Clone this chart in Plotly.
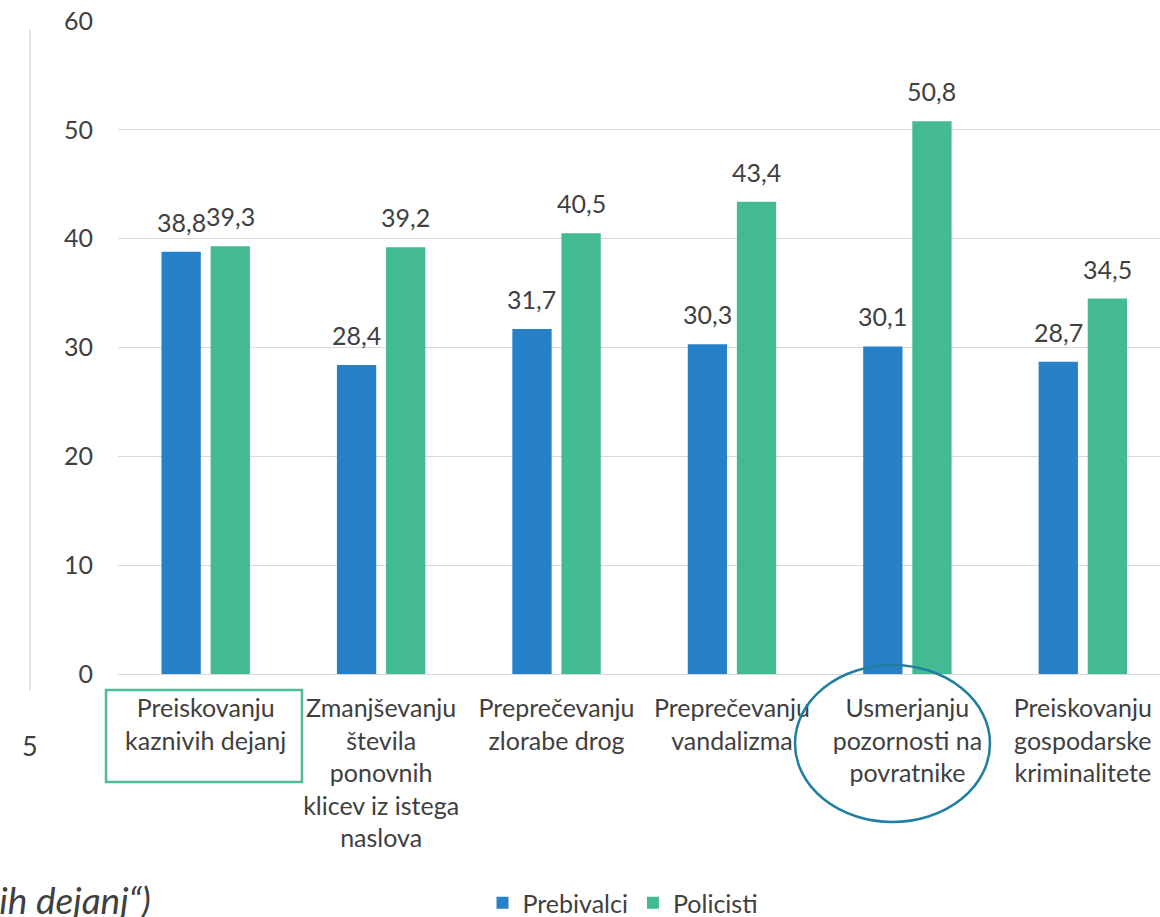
import plotly.graph_objects as go

categories = [
    "Preiskovanju<br>kaznivih dejanj",
    "Zmanjševanju<br>števila<br>ponovnih<br>klicev iz istega<br>naslova",
    "Preprečevanju<br>zlorabe drog",
    "Preprečevanju<br>vandalizma",
    "Usmerjanju<br>pozornosti na<br>povratnike",
    "Preiskovanju<br>gospodarske<br>kriminalitete",
]
prebivalci = [38.8, 28.4, 31.7, 30.3, 30.1, 28.7]
policisti = [39.3, 39.2, 40.5, 43.4, 50.8, 34.5]
series_names = ["Prebivalci", "Policisti"]
y_ticks = [0, 10, 20, 30, 40, 50, 60]

FONT = "Lato"
TXT = "#404040"
W, H = 1160, 917
L, R, T, B = 118, 0, 21, 243
PW, PH = W - L - R, H - T - B
BARGAP = 0.44
SLOT = (1 - BARGAP) / 2


def px(x):
    return (x - L) / PW


def py(y):
    return (H - B - y) / PH


fig = go.Figure()
label_annots = []
for k, (name, vals, col) in enumerate([(series_names[0], prebivalci, "#2681C8"),
                                       (series_names[1], policisti, "#43BA94")]):
    fig.add_trace(go.Bar(
        x=list(range(len(categories))), y=vals, name=name,
        marker=dict(color=col, line=dict(width=0)),
    ))
    off = (k - 0.5) * SLOT
    for i, v in enumerate(vals):
        label_annots.append(dict(
            text=f"{v:.1f}".replace(".", ","), xref="x", yref="y",
            x=i + off, y=v, xanchor="center", yanchor="bottom", yshift=13,
            showarrow=False, font=dict(family=FONT, size=25, color=TXT)))

fig.update_layout(
    width=W, height=H,
    margin=dict(l=L, r=R, t=T, b=B, pad=0, autoexpand=False),
    paper_bgcolor="white", plot_bgcolor="white",
    separators=",.",
    barmode="group", bargap=BARGAP, bargroupgap=0.2,
    font=dict(family=FONT, size=25, color=TXT),
    showlegend=True,
    legend=dict(orientation="h", x=0.5 - 16 / PW, xanchor="center", xref="paper",
                y=py(903), yanchor="middle",
                font=dict(family=FONT, size=25, color=TXT),
                traceorder="normal"),
    xaxis=dict(
        tickmode="array", tickvals=list(range(len(categories))), ticktext=categories,
        range=[-0.5, 5.44], showgrid=False, zeroline=False, showline=False,
        ticks="", tickfont=dict(family=FONT, size=25, color=TXT),
        ticklabelstandoff=17, automargin=False,
    ),
    yaxis=dict(
        range=[0, 60], tickvals=y_ticks, showgrid=True, gridcolor="#D9D9D9",
        gridwidth=1.3, zeroline=True, zerolinecolor="#D9D9D9", zerolinewidth=1.3,
        showline=False, ticks="", tickfont=dict(family=FONT, size=25, color=TXT),
        ticklabelstandoff=24, automargin=False,
    ),
    shapes=[
        dict(type="rect", xref="paper", yref="paper",
             x0=px(106), x1=px(302), y0=py(782), y1=py(690),
             line=dict(color="#4DBB93", width=2.5)),
        dict(type="circle", xref="paper", yref="paper",
             x0=px(795), x1=px(990), y0=py(822), y1=py(665),
             line=dict(color="#1F7EA1", width=2.5)),
        dict(type="line", xref="paper", yref="paper",
             x0=px(30), x1=px(30), y0=py(690), y1=py(30),
             line=dict(color="#D9D9D9", width=1.5)),
    ],
    annotations=label_annots + [
        dict(text="5", xref="paper", yref="paper", x=px(30), y=py(745),
             xanchor="center", yanchor="middle", showarrow=False,
             font=dict(family=FONT, size=27, color=TXT)),
        dict(text="<i>kaznivih dejanj“)</i>", xref="paper", yref="paper",
             x=px(153), y=py(899), xanchor="right", yanchor="middle",
             showarrow=False, font=dict(family=FONT, size=37, color=TXT)),
    ],
)

fig.write_html(
    "out.html",
    config={"displayModeBar": False},
    post_script="document.body.style.margin='0';document.body.style.overflow='hidden';",
)
